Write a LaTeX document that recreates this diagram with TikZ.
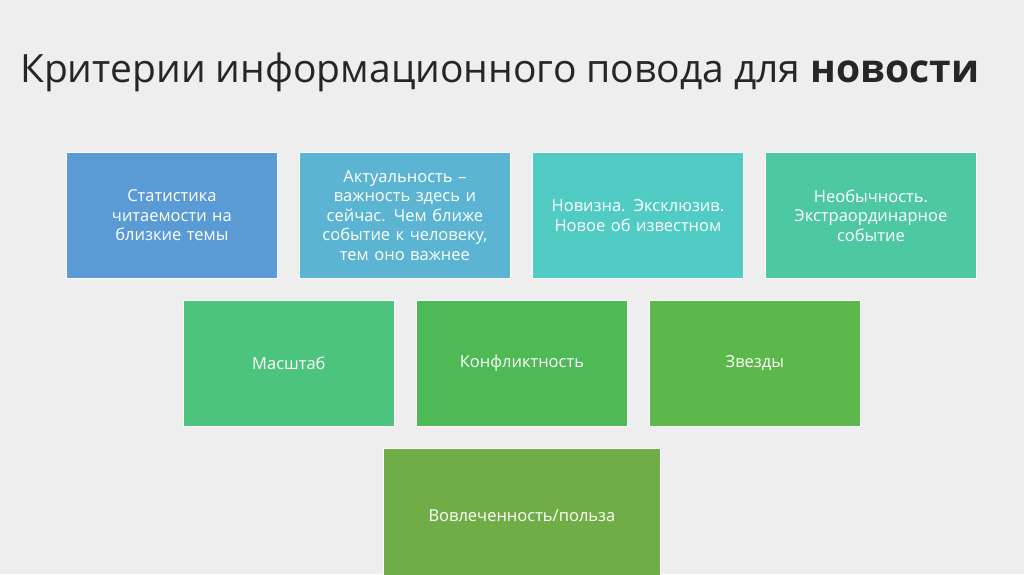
\documentclass[tikz,border=0pt]{standalone}
\usepackage{fontspec}
\setmainfont{Open Sans}
\definecolor{bg}{HTML}{EEEEEE}
\definecolor{c1}{HTML}{5B9BD5}
\definecolor{c2}{HTML}{5BB4D2}
\definecolor{c3}{HTML}{50CCC4}
\definecolor{c4}{HTML}{4DC8A2}
\definecolor{c5}{HTML}{4CC47E}
\definecolor{c6}{HTML}{4DBA55}
\definecolor{c7}{HTML}{5CB84A}
\definecolor{c8}{HTML}{70AD47}
\begin{document}
\begin{tikzpicture}[x=1pt,y=-1pt,
  boxst/.style={draw=white,line width=0.8pt,minimum width=211pt,minimum height=126pt,inner sep=0pt,text=white,font=\fontsize{16.5}{19.5}\selectfont,align=center,text width=205pt,anchor=north west}]
\fill[bg] (0,0) rectangle (1024,574);
\useasboundingbox (0,0) rectangle (1024,574);
\node[anchor=west,font=\fontsize{39}{44}\selectfont,text=black!85,inner sep=0pt] (title) at (20,72) {Критерии информационного повода для \textbf{новости}};
\node[boxst,fill=c1] (b1) at (66,152) {Статистика\\читаемости на\\близкие темы};
\node[boxst,fill=c2] (b2) at (299,152) {Актуальность –\\важность здесь и\\сейчас. Чем ближе\\событие к человеку,\\тем оно важнее};
\node[boxst,fill=c3] (b3) at (532,152) {Новизна. Эксклюзив.\\Новое об известном};
\node[boxst,fill=c4] (b4) at (765,152) {Необычность.\\Экстраординарное\\событие};
\node[boxst,fill=c5] (b5) at (183,300) {Масштаб};
\node[boxst,fill=c6] (b6) at (416,300) {Конфликтность};
\node[boxst,fill=c7] (b7) at (649,300) {Звезды};
\node[boxst,fill=c8,minimum width=277pt,minimum height=134pt] (b8) at (383,448) {Вовлеченность/польза};
\end{tikzpicture}
\end{document}
